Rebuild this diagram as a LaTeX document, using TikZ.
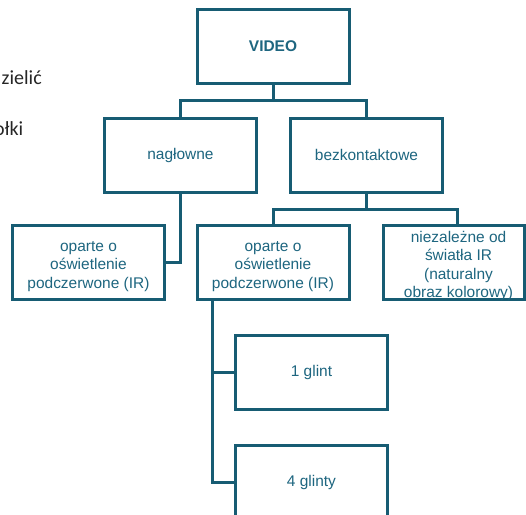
\documentclass[tikz,border=0pt]{standalone}
\usepackage{fontspec}
\setmainfont{Liberation Sans}
\newfontfamily\slidefont{Carlito}
\usetikzlibrary{positioning,calc}
\definecolor{boxline}{HTML}{175C73}
\definecolor{boxtext}{HTML}{1E6680}
\definecolor{slidetext}{HTML}{262626}
\tikzset{
  boxfont/.style={font=\fontsize{11.6}{13.7}\selectfont},
  box/.style={draw=boxline, line width=2.25pt, fill=white, rectangle,
    minimum width=114pt, minimum height=55.5pt, inner sep=0pt,
    align=center, text=boxtext, boxfont},
  boxlabel/.style={align=center, text=boxtext, boxfont, inner sep=0pt},
  conn/.style={draw=boxline, line width=2.25pt},
  slide/.style={font=\slidefont\fontsize{15}{18}\selectfont, text=slidetext, inner sep=0pt}
}
\begin{document}
\begin{tikzpicture}[x=0.75pt,y=-0.75pt]
\useasboundingbox (0,0) rectangle (526,515);
% slide text fragments
\node[slide, anchor=base east] (t1) at (42,84) {zielić};
\node[slide, anchor=base east] (t2) at (23.5,135) {ołki};
% boxes
\node[box, font=\bfseries\fontsize{11.6}{13.7}\selectfont] (video) at (273,46) {VIDEO};
\node[box] (nag) at (180.5,155) {nagłowne};
\node[box] (bez) at (366.5,155) {bezkontaktowe};
\node[box, label={[boxlabel, yshift=-3.4pt]center:oparte o\\oświetlenie\\podczerwone (IR)}] (ir1) at (88.5,262) {};
\node[box, label={[boxlabel, yshift=-3.4pt]center:oparte o\\oświetlenie\\podczerwone (IR)}] (ir2) at (273,262) {};
\node[box, minimum width=105.75pt,
  label={[boxlabel, xshift=3.4pt, yshift=-3pt]center:niezależne od\\światła IR\\(naturalny\\obraz kolorowy)}] (nz) at (454,262) {};
\node[box] (g1) at (311.5,372) {1 glint};
\node[box] (g4) at (311.5,482) {4 glinty};
% connectors
\coordinate (j1) at (273,100);
\coordinate (j2) at (366.5,209);
\coordinate (sp) at (212,300);
\draw[conn] (video.south) -- (j1);
\draw[conn] (nag.north) |- (j1) -| (bez.north);
\draw[conn] (nag.south) |- (ir1.east);
\draw[conn] (bez.south) -- (j2);
\draw[conn] (ir2.north) |- (j2) -| ([xshift=2.6pt]nz.north);
\draw[conn] (ir2.south -| sp) |- (g1.west);
\draw[conn] (ir2.south -| sp) |- (g4.west);
\end{tikzpicture}
\end{document}
